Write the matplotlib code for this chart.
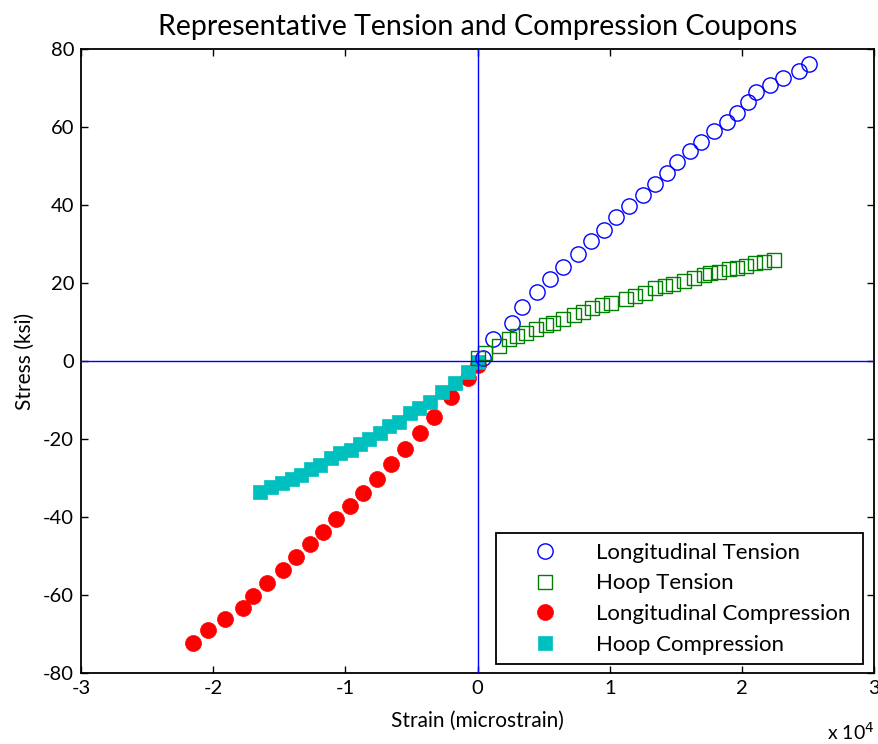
import matplotlib.pyplot as plt
import numpy as np

plt.rcParams['font.family'] = ['Lato', 'DejaVu Sans']
plt.rcParams['axes.unicode_minus'] = False

# strain in units of 1e4 microstrain, stress in ksi
long_ten_x = [0.04, 0.12, 0.26, 0.34, 0.45, 0.55, 0.65, 0.76, 0.86, 0.96, 1.05, 1.15, 1.25, 1.34,
              1.43, 1.51, 1.61, 1.69, 1.79, 1.89, 1.96, 2.05, 2.11, 2.21, 2.31, 2.43, 2.51]
long_ten_y = [0.85, 5.7, 9.8, 13.9, 17.8, 21.0, 24.2, 27.5, 30.8, 33.7, 36.9, 39.7, 42.6, 45.3,
              48.2, 51.1, 53.8, 56.2, 59.0, 61.4, 63.7, 66.5, 68.9, 70.7, 72.6, 74.4, 76.2]

hoop_ten_x = [0.0, 0.06, 0.16, 0.24, 0.30, 0.37, 0.44, 0.52, 0.57, 0.65, 0.73, 0.80, 0.87, 0.94,
              1.01, 1.12, 1.19, 1.27, 1.34, 1.42, 1.48, 1.56, 1.64, 1.71, 1.76, 1.83, 1.90, 1.96,
              2.03, 2.10, 2.17, 2.24]
hoop_ten_y = [0.7, 2.0, 3.8, 5.6, 6.4, 7.3, 8.1, 9.2, 9.8, 10.7, 11.8, 12.6, 13.5, 14.4,
              14.8, 15.9, 16.7, 17.5, 18.6, 19.2, 19.7, 20.6, 21.2, 22.1, 22.5, 22.9, 23.5, 23.9,
              24.4, 25.1, 25.5, 25.9]

long_comp_x = [-2.152, -2.039, -1.91, -1.776, -1.696, -1.595, -1.474, -1.373, -1.267, -1.166,
               -1.070, -0.964, -0.864, -0.758, -0.657, -0.548, -0.435, -0.329, -0.200, -0.074, 0.006]
long_comp_y = [-72.3, -69.0, -66.2, -63.4, -60.2, -56.8, -53.6, -50.3, -47.0, -43.8,
               -40.5, -37.1, -33.9, -30.2, -26.4, -22.6, -18.4, -14.3, -9.2, -4.4, -1.0]

hoop_comp_x = [-1.645, -1.562, -1.477, -1.405, -1.337, -1.259, -1.191, -1.108, -1.040, -0.957,
               -0.889, -0.818, -0.737, -0.667, -0.592, -0.511, -0.440, -0.359, -0.271, -0.170,
               -0.070, 0.006]
hoop_comp_y = [-33.7, -32.2, -31.4, -30.3, -29.1, -27.8, -26.7, -24.9, -23.7, -22.8,
               -21.4, -20.1, -18.5, -16.7, -15.6, -13.4, -12.1, -10.4, -7.9, -5.6,
               -2.7, -0.2]

xticks = [-3, -2, -1, 0, 1, 2, 3]
yticks = [-80, -60, -40, -20, 0, 20, 40, 60, 80]

fig = plt.figure(figsize=(8.79, 7.44), dpi=100)
ax = fig.add_axes([0.0922, 0.0954, 0.9021, 0.8387])

# compression drawn first so the tension markers sit on top near the origin
lc, = ax.plot(long_comp_x, long_comp_y, 'o', color='#ff0000', ms=11.5, mec='#ff0000', mew=0.5)
hc, = ax.plot(hoop_comp_x, hoop_comp_y, 's', color='#00bfbf', ms=10.5, mec='#00bfbf', mew=0.5)
lt, = ax.plot(long_ten_x, long_ten_y, 'o', mfc='none', mec='#0000ff', ms=11, mew=1)
ht, = ax.plot(hoop_ten_x, hoop_ten_y, 's', mfc='none', mec='#008000', ms=10, mew=1)

ax.axhline(0, color='#0000ff', lw=1, zorder=5)
ax.axvline(0, color='#0000ff', lw=1, zorder=5)

ax.set_xlim(-3, 3)
ax.set_ylim(-80, 80)
ax.set_xticks(xticks)
ax.set_xticklabels([str(t) for t in xticks])
ax.set_yticks(yticks)
ax.tick_params(direction='in', top=True, right=True, length=5, width=1, labelsize=14.5, pad=5)
for s in ax.spines.values():
    s.set_linewidth(1.3)

ax.set_title('Representative Tension and Compression Coupons', fontsize=20.5, pad=10)
ax.set_xlabel('Strain (microstrain)', fontsize=15, labelpad=10)
ax.set_ylabel('Stress (ksi)', fontsize=15, labelpad=6)
fig.text(0.995, 0.002, 'x 10$^{4}$', fontsize=14, ha='right', va='bottom')

leg = ax.legend([lt, ht, lc, hc],
                ['Longitudinal Tension', 'Hoop Tension', 'Longitudinal Compression', 'Hoop Compression'],
                loc='lower left', bbox_to_anchor=(0.523, 0.0144, 0.463, 0.207), mode='expand',
                fontsize=16, fancybox=False, edgecolor='black', framealpha=1,
                handlelength=3.6, handletextpad=0.5, labelspacing=0.48, borderaxespad=0,
                borderpad=0.42)
leg.get_frame().set_linewidth(1.3)

fig.savefig('out.png', dpi=100)
